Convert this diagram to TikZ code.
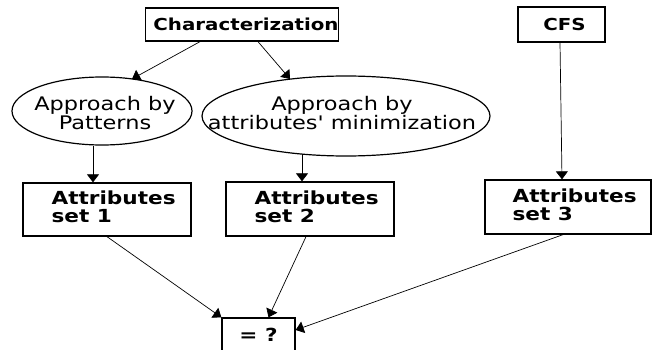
\documentclass[tikz,border=0pt]{standalone}
\usepackage{fontspec}
\setmainfont{DejaVu Sans}[FakeStretch=1.2,Ligatures=TeXOff]
\usetikzlibrary{arrows.meta,calc,shapes.geometric}
\begin{document}
\begin{tikzpicture}[x=1pt,y=-1pt,
  box/.style={draw,line width=1.3pt,inner sep=0pt,font=\fontsize{16.5}{18}\selectfont\bfseries},
  ell/.style={draw,ellipse,line width=1.2pt,inner sep=0pt},
  btxt/.style={font=\fontsize{18}{18}\selectfont\bfseries,align=left,inner sep=0pt},
  rtxt/.style={font=\fontsize{18.7}{19}\selectfont,align=center,inner sep=0pt},
  arr/.style={-{Triangle[length=8pt,width=12pt]},line width=0.7pt}]
\useasboundingbox (0,0) rectangle (660,350);
\node[box,minimum width=192pt,minimum height=33pt] (char) at (242,24.5) {\hspace*{8pt}Characterization};
\node[box,minimum width=87pt,minimum height=35pt] (cfs) at (561.5,24.5) {\hspace*{6pt}CFS};
\node[ell,minimum width=180pt,minimum height=68pt] (e1) at (102,111) {};
\node[rtxt] (t1) at (105,113) {Approach by\\Patterns};
\node[ell,minimum width=288pt,minimum height=80pt] (e2) at (346,116) {};
\node[rtxt] (t2) at (342,113) {Approach by\\attributes' minimization};
\node[box,minimum width=168pt,minimum height=53pt] (s1) at (107,209.5) {};
\node[btxt,anchor=west] (l1) at ($(s1.west)+(29,-2.7)$) {Attributes\\set 1};
\node[box,minimum width=168pt,minimum height=54pt] (s2) at (310,209) {};
\node[btxt,anchor=west] (l2) at ($(s2.west)+(29,-2.2)$) {Attributes\\set 2};
\node[box,minimum width=166pt,minimum height=54pt] (s3) at (568,207) {};
\node[btxt,anchor=west] (l3) at ($(s3.west)+(28,-2.2)$) {Attributes\\set 3};
\node[box,minimum width=73pt,minimum height=34pt,font=\fontsize{18}{18}\selectfont\bfseries] (eq) at (258.5,335) {= ?};
\draw[arr] ($(char.south)+(-42,0)$) -- ($(e1.center)+(30,-32)$);
\draw[arr] ($(char.south)+(16,0)$) -- ($(e2.center)+(-56,-37)$);
\draw[arr] ($(e1.south)+(-9,0)$) -- ($(s1.north)+(-14,0)$);
\draw[arr] ($(e2.center)+(-44,38)$) -- ($(s2.north)+(-8,0)$);
\draw[arr] ($(cfs.south)+(-1.5,0)$) -- ($(s3.north)+(-6,0)$);
\draw[arr] (s1.south) -- (eq.north west);
\draw[arr] ($(s2.south)+(-4,0)$) -- ($(eq.north)+(10,0)$);
\draw[arr] ($(s3.south)+(-5,0)$) -- ($(eq.east)+(0,-5)$);
\end{tikzpicture}
\end{document}
